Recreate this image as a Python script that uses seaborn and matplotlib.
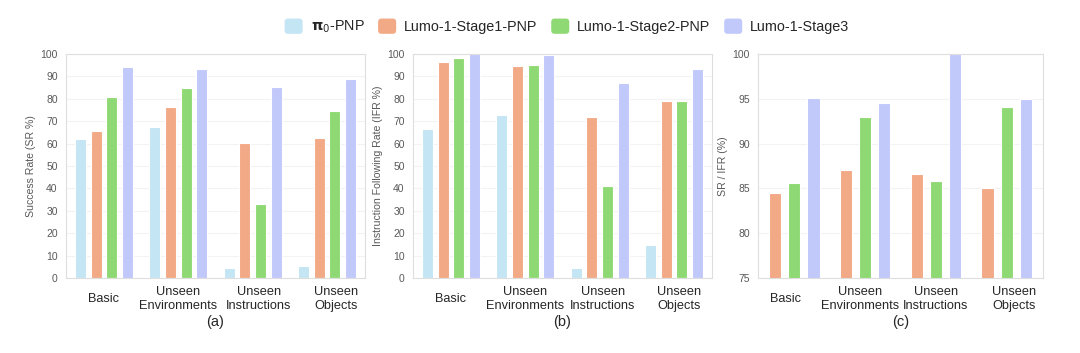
import pandas as pd
import matplotlib.pyplot as plt
import matplotlib.transforms as mtransforms
import seaborn as sns
from matplotlib.patches import Patch, FancyBboxPatch
from matplotlib.legend_handler import HandlerPatch

# Categories and series
categories = ['Basic', 'Unseen\nEnvironments', 'Unseen\nInstructions', 'Unseen\nObjects']
models = [r'$\mathbf{\pi}_0$-PNP', 'Lumo-1-Stage1-PNP', 'Lumo-1-Stage2-PNP', 'Lumo-1-Stage3']
colors = ['#c3e5f4', '#f2aa86', '#8fd974', '#c1c9fb']

# (a) Success rate
sr_pi0 = [62.0, 67.3, 4.5, 5.4]
sr_stage1 = [65.6, 76.2, 60.1, 62.5]
sr_stage2 = [80.7, 85.0, 33.2, 74.4]
sr_stage3 = [94.0, 93.5, 85.3, 88.8]

# (b) Instruction following rate
ifr_pi0 = [66.4, 72.8, 4.5, 14.9]
ifr_stage1 = [96.4, 94.5, 71.7, 79.2]
ifr_stage2 = [98.1, 94.9, 40.9, 79.2]
ifr_stage3 = [100.0, 99.4, 87.2, 93.5]

# (c) SR / IFR
ratio_stage1 = [84.5, 87.1, 86.6, 85.0]
ratio_stage2 = [85.6, 93.0, 85.8, 94.1]
ratio_stage3 = [95.1, 94.5, 100.0, 95.0]


def to_long(series_list, names):
    rows = []
    for name, vals in zip(names, series_list):
        for cat, v in zip(categories, vals):
            rows.append({'category': cat, 'model': name, 'value': v})
    return pd.DataFrame(rows)


df_a = to_long([sr_pi0, sr_stage1, sr_stage2, sr_stage3], models)
df_b = to_long([ifr_pi0, ifr_stage1, ifr_stage2, ifr_stage3], models)
df_c = to_long([ratio_stage1, ratio_stage2, ratio_stage3], models[1:])

sns.set_style('white')
plt.rcParams['font.family'] = ['Liberation Sans', 'DejaVu Sans']
plt.rcParams['mathtext.fontset'] = 'dejavusans'

W, H = 1080, 353
fig = plt.figure(figsize=(W / 100, H / 100), dpi=100)
fig.patch.set_facecolor('white')


def px_axes(left, right, top, bottom):
    return fig.add_axes([left / W, 1 - bottom / H, (right - left) / W, (bottom - top) / H])


ax_a = px_axes(66, 365, 54, 278)
ax_b = px_axes(413, 712, 54, 278)
ax_c = px_axes(758, 1043, 54, 278)

# small horizontal nudges (px) of the category labels, as in the original
panels = [
    (ax_a, df_a, models, colors, 'Success Rate (SR %)', (0, 100), range(0, 101, 10), 0.84, 0.3, '(a)', [0, 0, 6, 9]),
    (ax_b, df_b, models, colors, 'Instruction Following Rate (IFR %)', (0, 100), range(0, 101, 10), 0.84, 0.3, '(b)', [0, 0, 3, 5]),
    (ax_c, df_c, models[1:], colors[1:], 'SR / IFR (%)', (75, 100), range(75, 101, 5), 0.81, 0.35, '(c)', [-9, -5, 0, 7]),
]

for ax, df, order, pal, ylabel, ylim, yticks, width, gap, tag, nudges in panels:
    sns.barplot(data=df, x='category', y='value', hue='model', hue_order=order,
                palette=pal, order=categories, width=width, gap=gap,
                edgecolor='white', linewidth=0.8, saturation=1, legend=False, ax=ax)
    ax.set_xlim(-0.51, 3.51)
    ax.set_ylim(*ylim)
    ax.set_yticks(list(yticks))
    ax.set_axisbelow(True)
    ax.yaxis.grid(True, color='#f3f3f3', linewidth=0.8)
    for s in ax.spines.values():
        s.set_color('#dedede')
        s.set_linewidth(0.8)
    ax.tick_params(axis='y', length=0, pad=6, labelsize=7.5, labelcolor='#595959')
    ax.tick_params(axis='x', length=0, pad=15, labelsize=9.2, labelcolor='#262626')
    for lab, dx in zip(ax.get_xticklabels(), nudges):
        lab.set_verticalalignment('center')
        lab.set_linespacing(1.25)
        lab.set_transform(lab.get_transform() + mtransforms.ScaledTranslation(dx / 100, 0, fig.dpi_scale_trans))
    ax.set_xlabel(tag, fontsize=10.5, color='#262626', labelpad=2)
    ax.set_ylabel(ylabel, fontsize=7.6, color='#595959', labelpad=3)


def rounded_patch(legend, orig_handle, xdescent, ydescent, width, height, fontsize):
    return FancyBboxPatch((-xdescent, -ydescent), width, height,
                          boxstyle='round,pad=0,rounding_size=2.5')


handles = [Patch(facecolor=c, edgecolor='none') for c in colors]
fig.legend(handles, models, loc='center', bbox_to_anchor=(0.525, 1 - 27 / H), ncol=4,
           frameon=False, fontsize=10.4, handlelength=1.25, handleheight=1.25,
           handletextpad=0.55, columnspacing=0.95,
           handler_map={Patch: HandlerPatch(patch_func=rounded_patch)})

plt.savefig('out.png', dpi=100)
plt.close()
